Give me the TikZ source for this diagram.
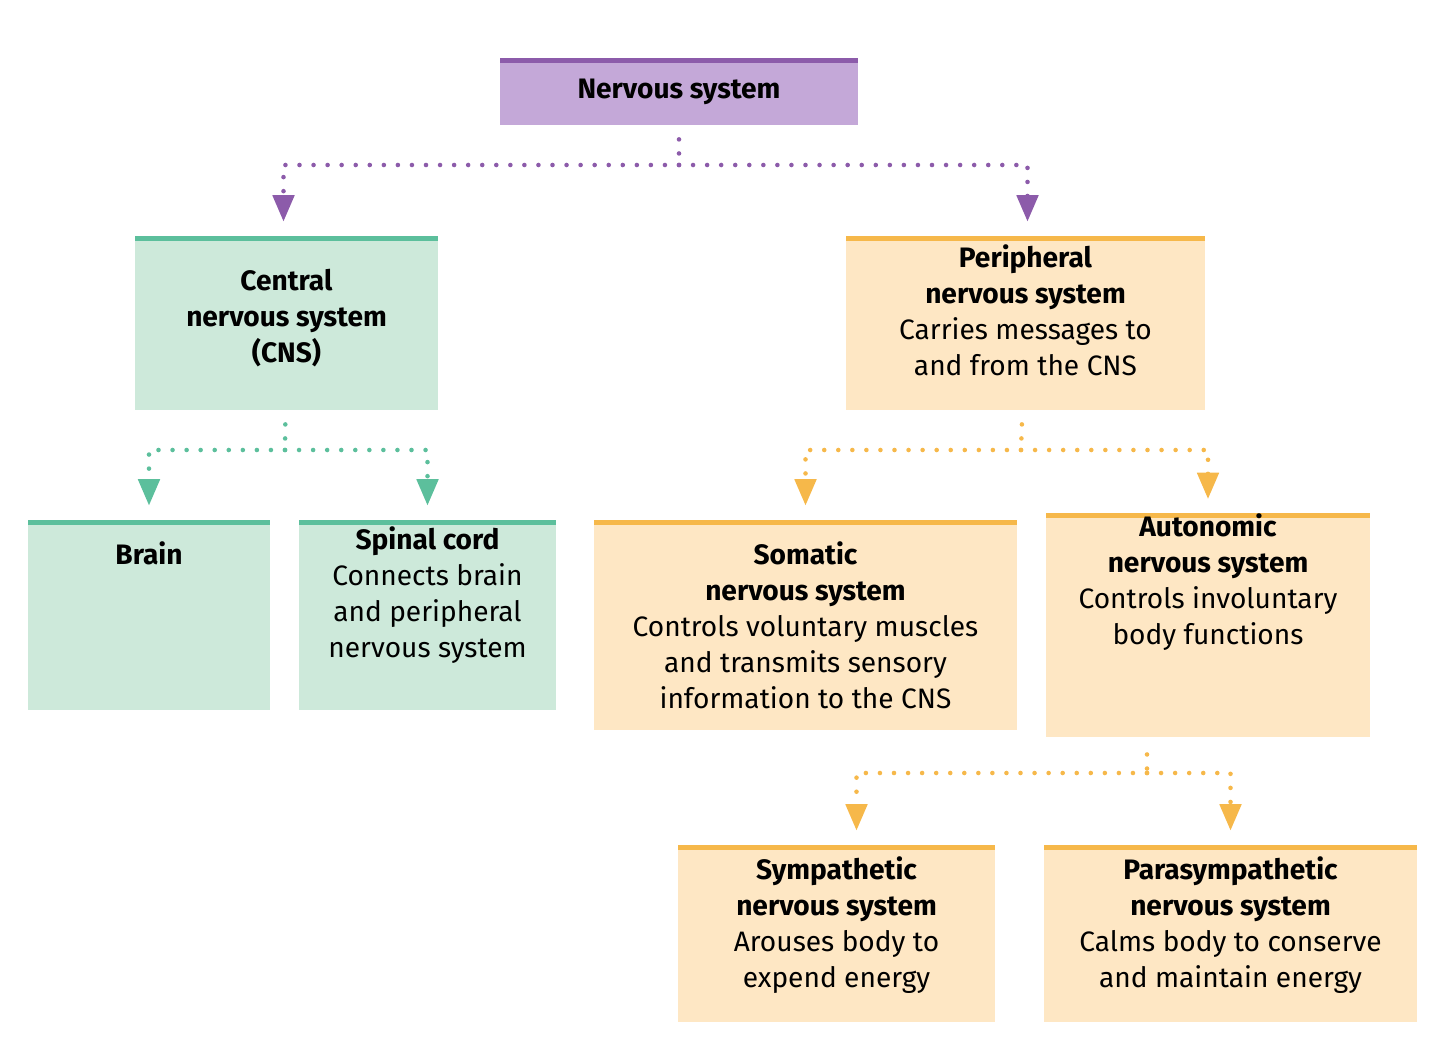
\documentclass[tikz,border=0pt]{standalone}
\usepackage{fontspec}
\setmainfont{Fira Sans}
\usetikzlibrary{arrows.meta}
\definecolor{pf}{HTML}{C4A8D8}\definecolor{pb}{HTML}{8C5BAA}
\definecolor{gf}{HTML}{CDE9DA}\definecolor{gb}{HTML}{5CBF9C}
\definecolor{of}{HTML}{FEE7C4}\definecolor{ob}{HTML}{F6B84A}
\begin{document}
\begin{tikzpicture}[x=0.02cm,y=-0.02cm,
 box/.style={draw=none,fill=#1,inner sep=0pt,align=center,font=\fontsize{16}{20.5}\selectfont},
 bar/.style={path picture={\fill[#1] (path picture bounding box.north west) rectangle ([yshift=-0.1cm]path picture bounding box.north east);}},
 dl/.style={draw=#1,line width=2.6pt,line cap=round,dash pattern=on 0pt off 8pt},
 ar/.style={dl=#1,-{Triangle[length=15pt,width=12pt,fill=#1]},shorten >=8pt}]
\useasboundingbox (0,0) rectangle (1440,1051);
\newcommand\bx[7]{\node[box=#6,bar=#7,minimum width=(#3-#2)*0.02cm,minimum height=(#5-#4)*0.02cm] (#1) at ({(#2+#3)/2},{(#4+#5)/2})}
\bx{ns}{500}{858}{58}{125}{pf}{pb}{\textbf{Nervous system}};
\bx{cns}{135}{438}{236}{410}{gf}{gb}{\textbf{Central}\\\textbf{nervous system}\\\textbf{(CNS)}\\[-12pt]};
\bx{pns}{846}{1205}{236}{410}{of}{ob}{\textbf{Peripheral}\\\textbf{nervous system}\\Carries messages to\\and from the CNS\\[-6pt]};
\bx{brain}{28}{270}{520}{710}{gf}{gb}{};
\node[font=\fontsize{16}{20.5}\selectfont\bfseries] (bt) at (149,553) {Brain};
\bx{spin}{299}{556}{520}{710}{gf}{gb}{\textbf{Spinal cord}\\Connects brain\\and peripheral\\nervous system\\[6pt]};
\bx{som}{594}{1017}{520}{730}{of}{ob}{\textbf{Somatic}\\\textbf{nervous system}\\Controls voluntary muscles\\and transmits sensory\\information to the CNS};
\bx{aut}{1046}{1370}{520}{730}{of}{ob}{\textbf{Autonomic}\\\textbf{nervous system}\\Controls involuntary\\body functions\\[32pt]};
\bx{sym}{678}{995}{845}{1022}{of}{ob}{\textbf{Sympathetic}\\\textbf{nervous system}\\Arouses body to\\expend energy\\[-8pt]};
\bx{par}{1044}{1417}{845}{1022}{of}{ob}{\textbf{Parasympathetic}\\\textbf{nervous system}\\Calms body to conserve\\and maintain energy\\[-8pt]};
\coordinate (j1) at (679,165);
\coordinate (j2) at (285,450);
\coordinate (j3) at (1021,450);
\coordinate (j4) at (1147,773);
\draw[dl=pb,shorten <=8pt] (ns) -- (j1);
\draw[ar=pb] (j1) -| ([xshift=-0.06cm]cns.north);
\draw[ar=pb] (j1) -| ([xshift=0.04cm]pns.north);
\draw[dl=gb,shorten <=8pt] (cns) -- (j2);
\draw[ar=gb] (j2) -| (brain.north);
\draw[ar=gb] (j2) -| (spin.north);
\draw[dl=ob,shorten <=8pt] (pns) -- (j3);
\draw[ar=ob] (j3) -| (som.north);
\draw[ar=ob] (j3) -| (aut.north);
\draw[dl=ob,shorten <=10pt] ([xshift=-1.22cm]aut.south) -- (j4);
\draw[ar=ob] (j4) -| ([xshift=0.4cm]sym.north);
\draw[ar=ob] (j4) -| (par.north);
\end{tikzpicture}
\end{document}
